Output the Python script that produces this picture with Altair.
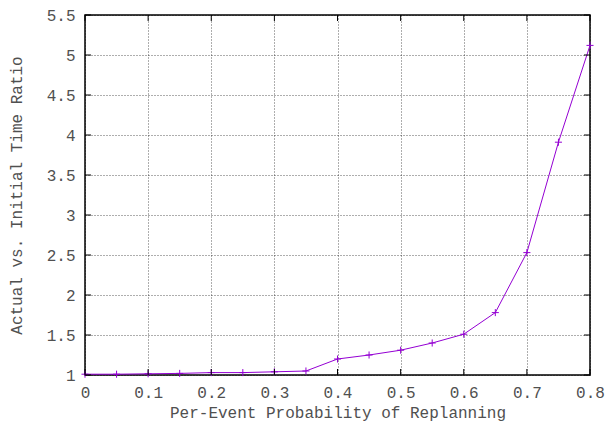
import altair as alt
import pandas as pd

prob = [0.0, 0.05, 0.10, 0.15, 0.20, 0.25, 0.30, 0.35, 0.40, 0.45, 0.50, 0.55, 0.60, 0.65, 0.70, 0.75, 0.80]
ratio = [1.01, 1.01, 1.015, 1.02, 1.03, 1.03, 1.04, 1.05, 1.20, 1.25, 1.31, 1.40, 1.51, 1.78, 2.53, 3.91, 5.12]
x_ticks = [0, 0.1, 0.2, 0.3, 0.4, 0.5, 0.6, 0.7, 0.8]
y_ticks = [1, 1.5, 2, 2.5, 3, 3.5, 4, 4.5, 5, 5.5]

df = pd.DataFrame({"p": prob, "r": ratio})
xt = pd.DataFrame({"v": x_ticks})
yt = pd.DataFrame({"v": y_ticks})

FONT = "Liberation Mono"
FS = 16
TXT = "#505050"
COLOR = "#9400d3"
W, H = 505, 360

xs = alt.Scale(domain=[0, 0.8], nice=False, zero=False)
ys = alt.Scale(domain=[1, 5.5], nice=False, zero=False)

xaxis = alt.Axis(values=x_ticks, format="~g", grid=True, gridColor="#000000",
                 gridDash=[1, 2], gridWidth=0.8, gridOpacity=0.8, ticks=False, domain=False,
                 labelFont=FONT, labelFontSize=FS, labelColor=TXT, labelPadding=9,
                 labelOverlap=False, labelFlush=False,
                 title="Per-Event Probability of Replanning", titleFont=FONT,
                 titleFontSize=FS, titleFontWeight="normal", titleColor=TXT, titlePadding=4)
yaxis = alt.Axis(values=y_ticks, format="~g", grid=True, gridColor="#000000",
                 gridDash=[1, 2], gridWidth=0.8, gridOpacity=0.8, ticks=False, domain=False,
                 labelFont=FONT, labelFontSize=FS, labelColor=TXT, labelPadding=10,
                 labelOverlap=False, labelFlush=False,
                 title="Actual vs. Initial Time Ratio", titleFont=FONT,
                 titleFontSize=FS, titleFontWeight="normal", titleColor=TXT, titlePadding=22)

line = alt.Chart(df).mark_line(color=COLOR, strokeWidth=1).encode(
    x=alt.X("p:Q", scale=xs, axis=xaxis),
    y=alt.Y("r:Q", scale=ys, axis=yaxis),
)
pts = alt.Chart(df).mark_point(shape="M-1,0L1,0M0,-1L0,1", color=COLOR, size=50,
                               strokeWidth=1, filled=False, opacity=1).encode(
    x=alt.X("p:Q", scale=xs, axis=xaxis),
    y=alt.Y("r:Q", scale=ys, axis=yaxis),
)

# inward ticks on all four sides
xb = alt.Chart(xt).mark_rule(color="black", strokeWidth=1).encode(
    x=alt.X("v:Q", scale=xs, axis=xaxis), y=alt.value(H), y2=alt.value(H - 6))
xtop = alt.Chart(xt).mark_rule(color="black", strokeWidth=1).encode(
    x=alt.X("v:Q", scale=xs, axis=xaxis), y=alt.value(0), y2=alt.value(6))
yl = alt.Chart(yt).mark_rule(color="black", strokeWidth=1).encode(
    y=alt.Y("v:Q", scale=ys, axis=yaxis), x=alt.value(0), x2=alt.value(6))
yr = alt.Chart(yt).mark_rule(color="black", strokeWidth=1).encode(
    y=alt.Y("v:Q", scale=ys, axis=yaxis), x=alt.value(W), x2=alt.value(W - 6))

chart = alt.layer(line, pts, xb, xtop, yl, yr).properties(
    width=W, height=H,
    background="white",
    autosize=alt.AutoSizeParams(type="none"),
    padding={"left": 77, "top": 7, "right": 17, "bottom": 47},
).configure_view(stroke="black", strokeWidth=1.5)

chart.save("out.html", embed_options={"renderer": "svg", "actions": False})
